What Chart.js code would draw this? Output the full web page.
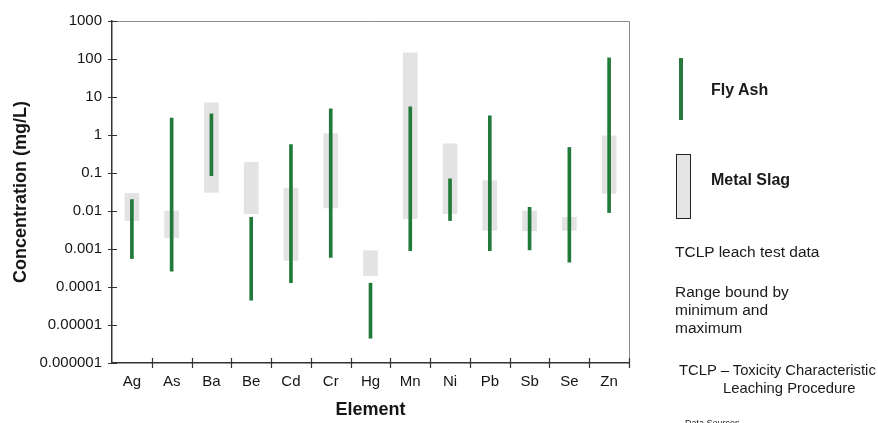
<!DOCTYPE html>
<html>
<head>
<meta charset="utf-8">
<script src="https://cdn.jsdelivr.net/npm/chart.js@4.4.1/dist/chart.umd.min.js"></script>
<style>
  html, body { margin: 0; padding: 0; background: #fff; overflow: hidden; }
  #wrap { position: relative; width: 878px; height: 423px; font-family: Arial, "Liberation Sans", sans-serif; color: #1a1a1a; }
  #wrap canvas { position: absolute; left: 0; top: 0; }
  .lg { position: absolute; white-space: nowrap; font-size: 15.5px; line-height: 18px; }
  .bold { font-weight: bold; font-size: 16px; }
</style>
</head>
<body>
<div id="wrap">
  <canvas id="chart" width="878" height="423"></canvas>

  <div style="position:absolute;left:679px;top:58px;width:3.5px;height:62px;background:#2a7a40;"></div>
  <div class="lg bold" style="left:711px;top:81px;">Fly Ash</div>

  <div style="position:absolute;left:676px;top:154px;width:13px;height:63px;background:#e4e4e4;border:1px solid #222;"></div>
  <div class="lg bold" style="left:711px;top:171px;">Metal Slag</div>

  <div class="lg" style="left:675px;top:243px;">TCLP leach test data</div>
  <div class="lg" style="left:675px;top:283px;">Range bound by</div>
  <div class="lg" style="left:675px;top:301px;">minimum and</div>
  <div class="lg" style="left:675px;top:319px;">maximum</div>

  <div class="lg" style="left:679px;top:361px;font-size:14.8px;">TCLP – Toxicity Characteristic</div>
  <div class="lg" style="left:723px;top:379px;font-size:14.8px;">Leaching Procedure</div>
  <div class="lg" style="left:685px;top:414px;font-size:9px;">Data Sources</div>
</div>

<script>
// elements on the x axis
const elements = ['Ag', 'As', 'Ba', 'Be', 'Cd', 'Cr', 'Hg', 'Mn', 'Ni', 'Pb', 'Sb', 'Se', 'Zn'];

// fly ash TCLP range (mg/L)
const flyAshMin = [0.00056, 0.00026, 0.085, 0.000045, 0.00013, 0.0006, 0.0000045, 0.0009, 0.0056, 0.0009, 0.00095, 0.00045, 0.0091];
const flyAshMax = [0.02, 2.8, 3.6, 0.0068, 0.56, 4.9, 0.000126, 5.5, 0.07, 3.2, 0.0125, 0.47, 107];

// metal slag TCLP range (mg/L)
const slagMin = [0.0056, 0.002, 0.031, 0.0085, 0.0005, 0.012, 0.0002, 0.0063, 0.0085, 0.0031, 0.003, 0.0031, 0.029];
const slagMax = [0.029, 0.01, 7, 0.19, 0.04, 1.07, 0.0009, 145, 0.59, 0.063, 0.01, 0.0068, 0.95];

// y axis ticks
const yTickValues = [0.000001, 0.00001, 0.0001, 0.001, 0.01, 0.1, 1, 10, 100, 1000];
const yTickLabels = ['0.000001', '0.00001', '0.0001', '0.001', '0.01', '0.1', '1', '10', '100', '1000'];

const axisColor = '#333';
const textColor = '#151515';

// gray frame on top/right + tick marks that cross the axes
const frameAndTicks = {
  id: 'frameAndTicks',
  afterDraw(chart) {
    const { ctx, chartArea: a, scales } = chart;
    ctx.save();
    ctx.strokeStyle = '#8c8c8c';
    ctx.lineWidth = 1;
    ctx.beginPath();
    ctx.moveTo(a.left, a.top + 0.5);
    ctx.lineTo(a.right + 0.5, a.top + 0.5);
    ctx.lineTo(a.right + 0.5, a.bottom);
    ctx.stroke();

    ctx.strokeStyle = axisColor;
    ctx.lineWidth = 1.2;
    ctx.beginPath();
    scales.y.ticks.forEach(t => {
      const y = Math.round(scales.y.getPixelForValue(t.value)) + 0.5;
      ctx.moveTo(a.left - 4, y);
      ctx.lineTo(a.left + 5, y);
    });
    const half = (scales.x.getPixelForValue(1) - scales.x.getPixelForValue(0)) / 2;
    elements.forEach((e, i) => {
      const x = Math.round(scales.x.getPixelForValue(i) + half) + 0.5;
      ctx.moveTo(x, a.bottom - 5);
      ctx.lineTo(x, a.bottom + 5);
    });
    ctx.stroke();
    ctx.restore();
  }
};

new Chart(document.getElementById('chart'), {
  type: 'bar',
  data: {
    labels: elements,
    datasets: [
      {
        label: 'Fly Ash',
        data: elements.map((e, i) => [flyAshMin[i], flyAshMax[i]]),
        backgroundColor: '#217a3a',
        barThickness: 3,
        grouped: false
      },
      {
        label: 'Metal Slag',
        data: elements.map((e, i) => [slagMin[i], slagMax[i]]),
        backgroundColor: '#e3e3e3',
        barThickness: 14,
        grouped: false
      }
    ]
  },
  options: {
    responsive: false,
    animation: false,
    layout: { padding: { left: 4, top: 21, right: 249, bottom: 0 } },
    plugins: {
      legend: { display: false },
      tooltip: { enabled: false }
    },
    scales: {
      x: {
        grid: { display: false, drawTicks: false },
        border: { display: true, color: axisColor, width: 1.5 },
        ticks: {
          autoSkip: false, maxRotation: 0, padding: 10,
          color: textColor, font: { family: 'Arial', size: 15 }
        },
        title: {
          display: true, text: 'Element', color: textColor,
          font: { family: 'Arial', size: 18, weight: 'bold' },
          padding: { top: 0, bottom: 2 }
        },
        afterFit(scale) { scale.height = 60; }
      },
      y: {
        type: 'logarithmic',
        min: 0.000001,
        max: 1000,
        grid: { display: false, drawTicks: false },
        border: { display: true, color: axisColor, width: 1.5 },
        afterBuildTicks(scale) {
          scale.ticks = yTickValues.map(v => ({ value: v }));
        },
        ticks: {
          padding: 10,
          color: textColor,
          font: { family: 'Arial', size: 15 },
          callback: (v, i) => yTickLabels[i]
        },
        title: {
          display: true, text: 'Concentration (mg/L)', color: textColor,
          font: { family: 'Arial', size: 18, weight: 'bold' },
          padding: { top: 6, bottom: 0 }
        },
        afterFit(scale) { scale.width = 108; }
      }
    }
  },
  plugins: [frameAndTicks]
});
</script>
</body>
</html>
